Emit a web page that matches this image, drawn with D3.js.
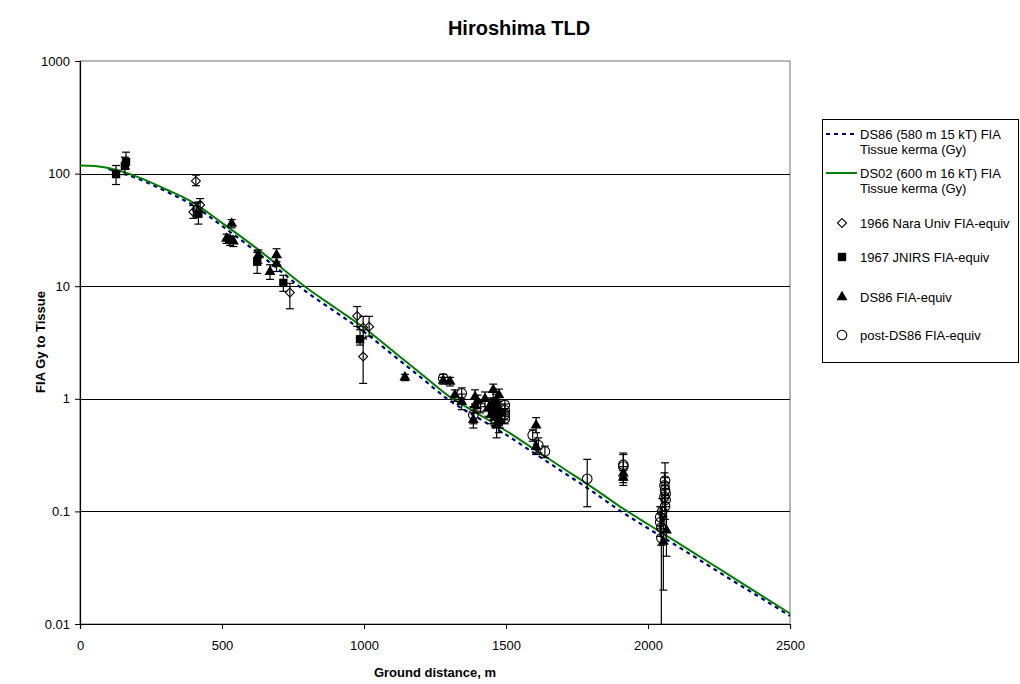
<!DOCTYPE html>
<html><head><meta charset="utf-8">
<script src="https://cdn.jsdelivr.net/npm/d3@7"></script>
<style>
body{margin:0;background:#fff}
svg{display:block}
text{font-family:"Liberation Sans",Arial,sans-serif;fill:#000}
</style>
</head><body>
<svg id="chart" width="1020" height="684"></svg>
<script>
// ---------- data ----------
const ds02Dist   = [0, 50, 100, 200, 300, 400, 500, 600, 700, 800, 900, 1000, 1100, 1200, 1300, 1400, 1500, 1600, 1700, 1800, 1900, 2000, 2100, 2200, 2300, 2400, 2500];
const ds02Values = [118, 117, 112, 94, 73, 55, 36.5, 23.9, 15.2, 9.6, 6.4, 4.27, 2.68, 1.68, 1.05, 0.74, 0.52, 0.356, 0.243, 0.166, 0.111, 0.0769, 0.0537, 0.0372, 0.0258, 0.0179, 0.0124];
const ds86Dist   = [100, 200, 300, 400, 500, 600, 700, 800, 900, 1000, 1100, 1200, 1300, 1400, 1500, 1600, 1700, 1800, 1900, 2000, 2100, 2200, 2300, 2400, 2500];
const ds86Values = [110, 91, 70, 52, 34.3, 22.2, 14.0, 8.8, 5.9, 3.93, 2.47, 1.55, 0.97, 0.68, 0.48, 0.328, 0.224, 0.153, 0.102, 0.0708, 0.0497, 0.0346, 0.0241, 0.0169, 0.0118];

// [ground distance m, value Gy, lower error, upper error]
const nara1966 = [
  [408, 86, 78, 97], [399, 45.7, 40, 52], [423, 52.5, 46, 60], [410, 48, 42, 55],
  [739, 8.8, 6.3, 10.6], [976, 5.44, 4.4, 6.6], [997, 4.3, 3.5, 5.4],
  [1018, 4.37, 3.6, 5.4], [997, 2.37, 1.37, 3.4]
];
const jnirs1967 = [
  [127, 99, 80, 118], [158, 117, 98, 140], [162, 127, 110, 155], [417, 44, 35.6, 56],
  [624, 16.5, 13, 20], [716, 10.7, 9, 12.5], [986, 3.38, 3.0, 4.1],
  [1460, 0.75, 0.6, 0.9], [1475, 0.62, 0.5, 0.75]
];
const ds86Meas = [
  [534, 36, 33, 39], [528, 25.7, 23, 28], [516, 26.5, 24, 29], [540, 25, 22.5, 27.5],
  [628, 18.9, 16, 21], [669, 13.4, 11.5, 15.5], [692, 18.9, 16.5, 21.5], [692, 15.9, 13.5, 18],
  [1144, 1.55, 1.45, 1.65], [1279, 1.45, 1.35, 1.55], [1303, 1.42, 1.3, 1.55], [1320, 1.08, 0.95, 1.2],
  [1344, 0.94, 0.8, 1.1], [1385, 0.65, 0.55, 0.75], [1391, 1.04, 0.9, 1.2], [1391, 0.88, 0.75, 1.0],
  [1400, 0.95, 0.82, 1.08], [1426, 1.0, 0.85, 1.15], [1455, 1.2, 1.0, 1.35], [1438, 0.82, 0.7, 0.95],
  [1455, 0.77, 0.65, 0.9], [1467, 0.58, 0.45, 0.7], [1479, 0.65, 0.55, 0.78], [1448, 0.72, 0.6, 0.85],
  [1465, 0.95, 0.8, 1.1], [1470, 0.85, 0.72, 0.98], [1475, 1.08, 0.95, 1.22], [1460, 0.68, 0.58, 0.8],
  [1480, 0.75, 0.62, 0.88], [1450, 0.9, 0.78, 1.02],
  [1606, 0.58, 0.5, 0.68], [1606, 0.375, 0.32, 0.43],
  [1913, 0.218, 0.18, 0.25], [1913, 0.2, 0.17, 0.23],
  [2054, 0.054, 0.02, 0.09], [2065, 0.068, 0.04, 0.1]
];
const postDs86 = [
  [1279, 1.52, 1.4, 1.65], [1344, 1.12, 1.0, 1.25], [1385, 0.72, 0.6, 0.85], [1410, 0.85, 0.75, 0.95],
  [1496, 0.88, 0.78, 0.98], [1496, 0.79, 0.7, 0.9], [1496, 0.73, 0.65, 0.82], [1496, 0.67, 0.6, 0.76],
  [1594, 0.476, 0.42, 0.53], [1614, 0.387, 0.33, 0.45], [1637, 0.34, 0.3, 0.38],
  [1786, 0.195, 0.11, 0.29], [1913, 0.26, 0.2, 0.33], [1913, 0.25, 0.19, 0.32],
  [2060, 0.188, 0.14, 0.27], [2058, 0.17, 0.13, 0.22], [2060, 0.155, 0.12, 0.2], [2062, 0.144, 0.11, 0.18],
  [2058, 0.135, 0.1, 0.17], [2062, 0.127, 0.1, 0.16], [2060, 0.111, 0.085, 0.14], [2050, 0.1, 0.075, 0.13],
  [2043, 0.089, 0.07, 0.11], [2043, 0.080, 0.06, 0.1], [2047, 0.072, 0.05, 0.095], [2047, 0.058, 0.005, 0.11]
];

const xTicks = [0, 500, 1000, 1500, 2000, 2500];
const yTicks = [0.01, 0.1, 1, 10, 100, 1000];
const yTickLabels = ["0.01", "0.1", "1", "10", "100", "1000"];
const legendLabels = [
  ["DS86 (580 m 15 kT) FIA", "Tissue kerma (Gy)"],
  ["DS02 (600 m 16 kT) FIA", "Tissue kerma (Gy)"],
  ["1966 Nara Univ FIA-equiv"],
  ["1967 JNIRS FIA-equiv"],
  ["DS86 FIA-equiv"],
  ["post-DS86 FIA-equiv"]
];

// ---------- chart ----------
const svg = d3.select("#chart");
const L = 80, R = 790, T = 61, B = 624;
const x = d3.scaleLinear().domain([0, 2500]).range([L, R]);
const y = d3.scaleLog().domain([0.01, 1000]).range([B, T]);

// plot border & grid
svg.append("rect").attr("x", L).attr("y", T).attr("width", R - L).attr("height", B - T)
  .attr("fill", "none").attr("stroke", "#a0a0a0").attr("stroke-width", 1.5);
svg.append("g").selectAll("line").data(yTicks.filter(v => v > 0.01 && v < 1000)).join("line")
  .attr("x1", L).attr("x2", R).attr("y1", d => Math.round(y(d)) + 0.5).attr("y2", d => Math.round(y(d)) + 0.5)
  .attr("stroke", "#000").attr("stroke-width", 1);

// axes
const xAxis = svg.append("g").attr("transform", `translate(0,${B})`)
  .call(d3.axisBottom(x).tickValues(xTicks).tickFormat(d3.format("d")).tickSize(5).tickPadding(12));
const yAxis = svg.append("g").attr("transform", `translate(${L},0)`)
  .call(d3.axisLeft(y).tickValues(yTicks).tickFormat((d, i) => yTickLabels[i]).tickSize(5).tickPadding(5));
[xAxis, yAxis].forEach(a => {
  a.select(".domain").attr("stroke", "#000").attr("stroke-width", 1.2);
  a.selectAll(".tick line").attr("stroke", "#000");
  a.selectAll("text").style("font-size", "13px").attr("fill", "#000");
});

// curves
const line = d3.line().x(d => x(d[0])).y(d => y(d[1])).curve(d3.curveMonotoneX);
svg.append("path").datum(ds86Dist.map((d, i) => [d, ds86Values[i]]))
  .attr("d", line).attr("fill", "none").attr("stroke", "#000080").attr("stroke-width", 2.2)
  .attr("stroke-dasharray", "4,4");
svg.append("path").datum(ds02Dist.map((d, i) => [d, ds02Values[i]]))
  .attr("d", line).attr("fill", "none").attr("stroke", "#008000").attr("stroke-width", 2);

// measurement series
const symDiamond = d3.symbol().type(d3.symbolSquare).size(40);
const symSquare = d3.symbol().type(d3.symbolSquare).size(70);
const symTriangle = d3.symbol().type(d3.symbolTriangle).size(52);
const symCircle = d3.symbol().type(d3.symbolCircle).size(72);
const series = [
  {data: nara1966, path: symDiamond(), rot: 45, fill: "none", stroke: "#000"},
  {data: jnirs1967, path: symSquare(), rot: 0, fill: "#000", stroke: "none"},
  {data: ds86Meas, path: symTriangle(), rot: 0, fill: "#000", stroke: "none"},
  {data: postDs86, path: symCircle(), rot: 0, fill: "none", stroke: "#000"}
];
const yc = v => y(Math.max(v, 0.01));
series.forEach(s => {
  const g = svg.append("g");
  const eb = g.append("g").selectAll("g").data(s.data).join("g").attr("stroke", "#000").attr("stroke-width", 1.2);
  eb.append("line").attr("x1", d => x(d[0])).attr("x2", d => x(d[0])).attr("y1", d => yc(d[2])).attr("y2", d => yc(d[3]));
  eb.filter(d => d[2] > 0.01).append("line").attr("x1", d => x(d[0]) - 4).attr("x2", d => x(d[0]) + 4).attr("y1", d => yc(d[2])).attr("y2", d => yc(d[2]));
  eb.append("line").attr("x1", d => x(d[0]) - 4).attr("x2", d => x(d[0]) + 4).attr("y1", d => yc(d[3])).attr("y2", d => yc(d[3]));
  g.append("g").selectAll("path").data(s.data).join("path")
    .attr("d", s.path)
    .attr("transform", d => `translate(${x(d[0])},${y(d[1])}) rotate(${s.rot})`)
    .attr("fill", s.fill).attr("stroke", s.stroke).attr("stroke-width", 1.1);
});

// titles
svg.append("text").attr("x", 519).attr("y", 35).attr("text-anchor", "middle")
  .style("font-size", "20px").style("font-weight", "bold").text("Hiroshima TLD");
svg.append("text").attr("x", 435).attr("y", 677).attr("text-anchor", "middle")
  .style("font-size", "13px").style("font-weight", "bold").text("Ground distance, m");
svg.append("text").attr("transform", "translate(45,342) rotate(-90)").attr("text-anchor", "middle")
  .style("font-size", "13px").style("font-weight", "bold").text("FIA Gy to Tissue");

// legend
const lg = svg.append("g");
lg.append("rect").attr("x", 822.5).attr("y", 119.5).attr("width", 196).attr("height", 243)
  .attr("fill", "#fff").attr("stroke", "#000").attr("stroke-width", 1);
const legY = [134, 173, 223, 257, 297, 335];
lg.append("line").attr("x1", 826).attr("x2", 857).attr("y1", legY[0]).attr("y2", legY[0])
  .attr("stroke", "#000080").attr("stroke-width", 2.2).attr("stroke-dasharray", "4,4");
lg.append("line").attr("x1", 826).attr("x2", 857).attr("y1", legY[1]).attr("y2", legY[1])
  .attr("stroke", "#008000").attr("stroke-width", 2);
series.forEach((s, i) => {
  lg.append("path").attr("d", s.path)
    .attr("transform", `translate(842,${legY[i + 2]}) rotate(${s.rot})`)
    .attr("fill", s.fill).attr("stroke", s.stroke).attr("stroke-width", 1.1);
});
legendLabels.forEach((lines, i) => {
  const t = lg.append("text").attr("x", 860).attr("y", legY[i] + 4.5).style("font-size", "13px");
  lines.forEach((ln, j) => t.append("tspan").attr("x", 860).attr("dy", j ? 15 : 0).text(ln));
});
</script>
</body></html>
